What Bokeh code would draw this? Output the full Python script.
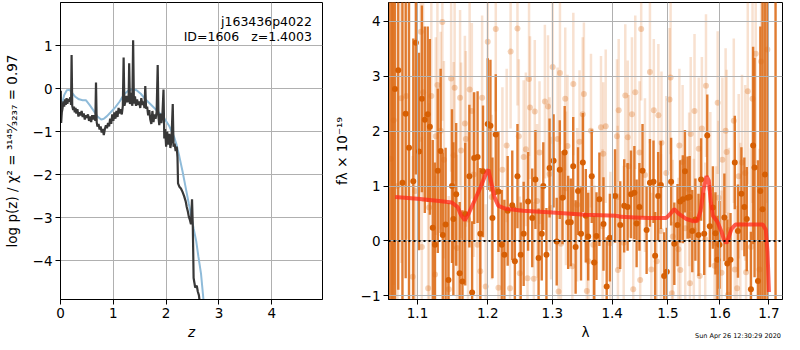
from bokeh.plotting import figure
from bokeh.layouts import row, column
from bokeh.models import (Range1d, FixedTicker, CustomJSTickFormatter, Span, Label,
                          ColumnDataSource, Div)
from bokeh.embed import file_html
from bokeh.resources import INLINE

FONT = "DejaVu Sans"

# ---------------- left panel: log p(z) ----------------
pz_z = [0.000, 0.006, 0.012, 0.025, 0.040, 0.055, 0.070, 0.085, 0.100, 0.115,
        0.130, 0.150, 0.170, 0.185, 0.200, 0.210, 0.222, 0.240, 0.255, 0.270,
        0.285, 0.300, 0.320, 0.340, 0.360, 0.380, 0.400, 0.420, 0.440, 0.460,
        0.480, 0.500, 0.520, 0.540, 0.560, 0.580, 0.600, 0.620, 0.640, 0.660,
        0.672, 0.685, 0.700, 0.720, 0.740, 0.760, 0.780, 0.800, 0.820, 0.840,
        0.860, 0.880, 0.900, 0.920, 0.940, 0.960, 0.980, 1.000, 1.020, 1.040,
        1.060, 1.080, 1.100, 1.120, 1.140, 1.160, 1.180, 1.195, 1.210, 1.230,
        1.250, 1.270, 1.290, 1.300, 1.315, 1.330, 1.345, 1.360, 1.375, 1.390,
        1.410, 1.430, 1.450, 1.470, 1.490, 1.510, 1.530, 1.550, 1.570, 1.590,
        1.605, 1.620, 1.640, 1.660, 1.680, 1.700, 1.720, 1.740, 1.760, 1.780,
        1.800, 1.820, 1.840, 1.855, 1.870, 1.890, 1.910, 1.930, 1.950, 1.965,
        1.980, 2.000, 2.020, 2.040, 2.060, 2.080, 2.100, 2.125, 2.140, 2.160,
        2.180, 2.200, 2.215, 2.225, 2.250, 2.280, 2.310, 2.340, 2.370, 2.390,
        2.410, 2.430, 2.450, 2.470, 2.490, 2.505, 2.520, 2.535, 2.550, 2.580,
        2.600, 2.620, 2.640]
pz_logp = [-0.75, -0.05, -0.80, -0.55, -0.45, -0.30, -0.42, -0.25, -0.38, -0.22,
           -0.35, -0.24, -0.30, -0.20, -0.38, 0.78, -0.40, -0.50, -0.42, -0.55,
           -0.45, -0.58, -0.48, -0.65, -0.55, -0.62, -0.52, -0.66, -0.58, -0.72,
           -0.62, -0.68, -0.60, -0.75, -0.65, -0.78, -0.62, -0.72, -0.62, -0.75,
           0.14, -0.78, -0.88, -0.82, -0.95, -0.88, -1.02, -0.94, -1.08, -0.94,
           -0.85, -0.92, -0.80, -0.88, -0.70, -0.82, -0.60, -0.75, -0.55, -0.70,
           -0.52, -0.66, -0.45, -0.58, -0.48, -0.60, -0.40, 0.72, -0.40, -0.30,
           -0.17, -0.32, -0.20, 0.59, -0.36, -0.10, -0.25, -0.40, 1.12, -0.35,
           -0.18, -0.40, -0.25, -0.38, -0.30, -0.45, -0.22, -0.38, -0.30, -0.45,
           0.06, -0.47, -0.42, -0.62, -0.50, -0.72, -0.82, -0.52, -0.78, -0.60,
           -0.70, -0.55, 0.55, -0.66, -0.85, -0.58, -0.80, -0.60, -0.02, -1.16,
           -0.94, -1.35, -1.00, -1.30, -1.05, -1.38, -1.22, -0.36, -1.35, -1.28,
           -1.45, -1.35, -1.60, -2.20, -2.28, -2.32, -2.40, -2.50, -2.62, -2.75,
           -2.85, -2.98, -3.05, -3.15, -2.57, -3.21, -4.40, -4.51, -4.62, -4.58,
           -4.72, -4.80, -5.00]

prior_z = [0.00, 0.03, 0.07, 0.12, 0.17, 0.22, 0.28, 0.35, 0.42, 0.48,
           0.55, 0.62, 0.70, 0.77, 0.82, 0.88, 0.95, 1.04, 1.12, 1.20,
           1.28, 1.36, 1.44, 1.52, 1.60, 1.70, 1.80, 1.90, 1.97, 2.05,
           2.10, 2.15, 2.20, 2.25, 2.31, 2.37, 2.43, 2.48, 2.52, 2.57,
           2.61, 2.66, 2.71, 2.75]
prior_logp = [-0.65, -0.35, -0.15, -0.04, -0.03, -0.10, -0.19, -0.25, -0.27, -0.27,
              -0.38, -0.50, -0.65, -0.72, -0.70, -0.64, -0.55, -0.43, -0.30, -0.14,
              -0.05, -0.01, -0.04, -0.12, -0.24, -0.36, -0.48, -0.60, -0.70, -0.85,
              -0.98, -1.12, -1.32, -1.58, -1.92, -2.30, -2.68, -2.98, -3.25, -3.55,
              -3.90, -4.30, -4.95, -5.40]

z_ticks = [0, 1, 2, 3, 4]
logp_ticks = [-4, -3, -2, -1, 0, 1]

# ---------------- right panel: spectrum ----------------
dark_wave = [1.062, 1.065, 1.067, 1.0697, 1.0741, 1.0797, 1.084, 1.0885, 1.0943, 1.0978,
             1.102, 1.106, 1.110, 1.114, 1.117, 1.121, 1.124, 1.128, 1.132, 1.135,
             1.139, 1.143, 1.148, 1.150, 1.154, 1.159, 1.163, 1.167, 1.173, 1.177,
             1.180, 1.185, 1.189, 1.193, 1.200, 1.204, 1.207, 1.212, 1.216, 1.221,
             1.225, 1.230, 1.237, 1.241, 1.245, 1.250, 1.2546, 1.2615, 1.268, 1.273,
             1.278, 1.283, 1.2855, 1.2905, 1.2955, 1.302, 1.307, 1.312, 1.3165, 1.320,
             1.3257, 1.330, 1.334, 1.338, 1.342, 1.347, 1.350, 1.355, 1.359, 1.365,
             1.369, 1.373, 1.378, 1.385, 1.3905, 1.396, 1.405, 1.414, 1.421, 1.427,
             1.433, 1.439, 1.443, 1.448, 1.4536, 1.461, 1.467, 1.4735, 1.4765, 1.482,
             1.487, 1.493, 1.498, 1.506, 1.512, 1.518, 1.523, 1.528, 1.532, 1.537,
             1.541, 1.546, 1.552, 1.558, 1.563, 1.569, 1.575, 1.580, 1.586, 1.591,
             1.595, 1.599, 1.6087, 1.6146, 1.621, 1.6296, 1.636, 1.643, 1.649, 1.654,
             1.6625, 1.667, 1.670, 1.677, 1.682, 1.6866, 1.6915, 1.697, 1.714]
dark_flux = [5.5, 5.5, 5.5, 2.77, 3.11, 1.06, 2.32, 1.70, 1.09, 3.61,
             1.63, 2.59, 2.21, 2.31, 2.08, 0.24, -0.07, 1.28, 1.64, 0.11,
             0.30, -0.71, 1.00, 0.40, 0.85, -0.59, -0.74, 0.49, 1.18, -0.94,
             1.51, 1.53, 0.13, 1.27, 2.13, 2.10, 0.42, 1.94, 0.90, -0.07,
             -0.25, 0.55, 0.65, -0.37, 1.18, -0.25, 0.13, 0.72, 0.42, 1.12,
             -0.31, 0.13, 1.00, -0.25, 1.33, 1.46, -0.01, 1.30, 0.79, 1.61,
             0.34, 0.34, 1.36, -0.11, 0.91, 0.13, 1.43, 0.46, 0.08, 1.18,
             -0.39, 0.09, 0.76, 0.31, -0.83, 0.06, 0.82, 0.29, 0.64, 0.62,
             0.85, 0.88, 0.32, 0.62, 1.28, 0.20, 1.06, 1.08, -0.27, 0.82,
             1.02, -0.64, -0.56, 1.08, -0.05, 0.29, 0.72, 0.76, 1.27, 0.79,
             0.80, 0.18, 0.39, 0.11, 1.12, 0.13, 1.92, 0.27, 0.61, 0.14,
             -0.34, -0.07, 0.43, -0.41, -0.34, 1.43, 0.18, 0.86, 0.62, 0.40,
             -0.88, 1.74, 1.34, -0.73, 0.91, 0.58, 1.21, 5.5, 5.5]
dark_err = [7.0, 7.0, 7.0, 4.0, 4.0, 3.5, 3.0, 2.8, 2.6, 2.4,
            1.8, 1.7, 1.7, 1.6, 1.6, 1.6, 1.5, 1.5, 1.5, 1.5,
            1.4, 1.4, 1.4, 1.4, 1.3, 1.3, 1.3, 1.3, 1.3, 1.3,
            1.2, 1.2, 1.2, 1.2, 1.2, 1.2, 1.1, 1.1, 1.1, 1.0,
            1.0, 1.0, 1.0, 1.0, 0.95, 0.95, 0.95, 0.9, 0.9, 0.9,
            0.9, 0.85, 0.8, 0.85, 0.9, 0.85, 0.8, 0.9, 0.85, 0.85,
            0.85, 0.8, 0.9, 0.85, 0.8, 0.85, 0.9, 0.85, 0.8, 0.85,
            0.85, 0.8, 0.85, 0.85, 0.9, 0.8, 0.85, 0.8, 0.85, 0.8,
            0.8, 0.85, 0.8, 0.8, 0.85, 0.8, 0.8, 0.75, 0.8, 0.8,
            0.8, 0.8, 0.8, 0.8, 0.75, 0.75, 0.75, 0.8, 0.75, 0.75,
            0.75, 0.75, 0.75, 0.75, 0.75, 0.75, 0.75, 0.75, 0.75, 0.75,
            0.8, 0.8, 0.8, 0.8, 0.85, 0.85, 0.85, 0.85, 0.9, 0.95,
            1.05, 1.8, 2.0, 2.2, 3.0, 4.0, 5.0, 7.0, 7.0]

light_wave = [1.064, 1.068, 1.073, 1.078, 1.0849, 1.0935, 1.0969, 1.1045, 1.1059, 1.1077,
              1.1146, 1.116, 1.119, 1.1242, 1.1252, 1.1275, 1.1321, 1.1344, 1.1366, 1.1435,
              1.1468, 1.1504, 1.1518, 1.1551, 1.1596, 1.161, 1.1665, 1.1679, 1.1711, 1.1734,
              1.1766, 1.1793, 1.1848, 1.189, 1.1917, 1.197, 1.200, 1.206, 1.212, 1.216,
              1.222, 1.2285, 1.2336, 1.2345, 1.245, 1.2471, 1.2486, 1.2546, 1.258, 1.2606,
              1.263, 1.2645, 1.2705, 1.272, 1.2756, 1.2795, 1.288, 1.293, 1.2955, 1.298,
              1.3005, 1.3085, 1.310, 1.3123, 1.3139, 1.3209, 1.322, 1.3246, 1.3326, 1.3342,
              1.3406, 1.3445, 1.3498, 1.3518, 1.3567, 1.3594, 1.3637, 1.3674, 1.3701, 1.3807,
              1.3835, 1.3846, 1.3888, 1.3968, 1.4083, 1.4095, 1.410, 1.4113, 1.4201, 1.4229,
              1.4272, 1.429, 1.4347, 1.437, 1.4406, 1.4483, 1.4494, 1.4512, 1.458, 1.467,
              1.4695, 1.4741, 1.4794, 1.4824, 1.4871, 1.4882, 1.497, 1.5031, 1.505, 1.5075,
              1.5092, 1.5197, 1.5215, 1.5233, 1.5276, 1.5326, 1.540, 1.5415, 1.543, 1.549,
              1.5503, 1.5584, 1.5603, 1.5645, 1.571, 1.5725, 1.581, 1.5891, 1.5923, 1.5954,
              1.597, 1.603, 1.6047, 1.6112, 1.6132, 1.616, 1.6177, 1.6276, 1.6296, 1.6343,
              1.6375, 1.6408, 1.6442, 1.6507, 1.6525, 1.656, 1.6625, 1.6658, 1.6724, 1.6803,
              1.6836, 1.6967]
light_flux = [1.5, 2.2, 1.0, 2.6, 2.64, -0.65, 0.91, 3.81, -0.11, 2.71,
              -0.86, 0.61, 2.64, -0.61, 1.91, 2.84, 2.01, 3.99, 1.48, -0.88,
              2.96, 1.56, 2.79, -0.13, 2.61, 1.65, 2.14, 1.86, 0.39, 2.76,
              2.37, 1.21, -0.07, -0.55, 2.61, -0.83, 3.63, 0.80, 3.86, -0.85,
              1.30, 1.74, -0.86, 3.45, 3.87, 1.91, -0.59, 1.53, 1.67, -0.68,
              2.95, 2.43, -0.69, 2.36, 0.73, 1.61, 2.54, 2.45, 1.22, 0.60,
              3.17, 1.86, -0.92, 3.06, -0.05, 2.59, 0.96, 1.73, -0.46, 2.86,
              0.66, 1.81, 2.31, 2.68, -0.91, -0.37, 2.01, -0.07, -0.39, 2.07,
              0.27, 1.59, 2.09, -0.04, 1.91, 0.80, -0.53, 2.38, -0.03, 2.65,
              1.89, 1.36, 2.31, -0.88, 2.71, 1.61, -0.71, 3.86, 1.20, 3.08,
              -0.52, 2.38, -0.37, 2.29, 0.18, 1.79, 1.24, 2.58, 2.98, -0.95,
              0.08, -0.15, 1.74, -0.53, 1.44, 0.23, 0.94, -0.77, 1.95, 0.20,
              2.37, 1.68, -0.64, 2.05, 0.03, 2.83, 0.95, -0.45, -0.04, 2.52,
              0.79, -0.58, 1.48, 2.01, 1.62, -0.98, 0.20, 2.19, -0.52, -0.86,
              1.18, 0.29, 1.43, 1.24, -0.57, 2.73, -0.11, 2.59, 3.41, -0.52,
              3.27, 3.49]
light_err = [3.0, 3.0, 3.0, 3.0, 2.6, 2.2, 2.2, 2.0, 2.0, 2.0,
             1.9, 1.9, 1.9, 1.8, 1.8, 1.8, 1.8, 1.8, 1.8, 1.7,
             1.7, 1.7, 1.7, 1.7, 1.6, 1.6, 1.6, 1.6, 1.6, 1.6,
             1.6, 1.5, 1.5, 1.5, 1.5, 1.5, 1.5, 1.5, 1.5, 1.5,
             1.5, 1.4, 1.4, 1.4, 1.4, 1.4, 1.4, 1.4, 1.4, 1.4,
             1.4, 1.3, 1.4, 1.3, 1.4, 1.3, 1.4, 1.3, 1.4, 1.3,
             1.4, 1.3, 1.4, 1.3, 1.4, 1.3, 1.4, 1.3, 1.4, 1.3,
             1.4, 1.3, 1.4, 1.3, 1.4, 1.3, 1.4, 1.3, 1.4, 1.3,
             1.4, 1.3, 1.4, 1.3, 1.4, 1.3, 1.4, 1.3, 1.4, 1.3,
             1.4, 1.3, 1.4, 1.3, 1.4, 1.3, 1.4, 1.3, 1.4, 1.3,
             1.4, 1.3, 1.4, 1.3, 1.4, 1.3, 1.4, 1.3, 1.4, 1.3,
             1.4, 1.3, 1.4, 1.3, 1.4, 1.3, 1.4, 1.3, 1.4, 1.3,
             1.4, 1.3, 1.4, 1.3, 1.4, 1.3, 1.4, 1.3, 1.4, 1.3,
             1.4, 1.5, 1.5, 1.5, 1.5, 1.5, 1.5, 1.5, 1.5, 1.5,
             1.5, 1.5, 1.6, 1.6, 1.6, 1.7, 1.8, 1.9, 2.0, 2.2,
             2.4, 2.8]

model_wave = [1.070, 1.100, 1.130, 1.148, 1.156, 1.161, 1.1665, 1.172, 1.180, 1.190,
              1.197, 1.201, 1.205, 1.210, 1.216, 1.226, 1.2535, 1.300, 1.354, 1.408,
              1.4145, 1.44, 1.465, 1.497, 1.505, 1.512, 1.520, 1.535, 1.549, 1.556,
              1.562, 1.568, 1.5735, 1.578, 1.582, 1.586, 1.595, 1.603, 1.608, 1.6126,
              1.617, 1.623, 1.631, 1.66, 1.687, 1.6935, 1.697, 1.700]
model_flux = [0.80, 0.77, 0.73, 0.70, 0.62, 0.47, 0.375, 0.50, 0.72, 1.00,
              1.22, 1.30, 1.08, 0.80, 0.64, 0.59, 0.55, 0.52, 0.48, 0.46,
              0.44, 0.43, 0.42, 0.42, 0.50, 0.58, 0.50, 0.40, 0.36, 0.37,
              0.55, 0.95, 1.18, 1.10, 0.70, 0.46, 0.35, 0.17, 0.02, -0.04,
              0.06, 0.22, 0.30, 0.30, 0.30, 0.20, -0.20, -0.93]

wave_ticks = [1.1, 1.2, 1.3, 1.4, 1.5, 1.6, 1.7]
flux_ticks = [-1, 0, 1, 2, 3, 4]

timestamp = "Sun Apr 26 12:30:29 2020"

ORANGE = "#dc6a14"
H = 342


def fmt(decimals):
    return CustomJSTickFormatter(code="""
        const s = tick.toFixed(%d);
        return s.replace('-', '\\u2212');
    """ % decimals)


def style(p):
    p.outline_line_color = "black"
    p.outline_line_width = 1
    p.outline_line_alpha = 1
    p.background_fill_color = "white"
    p.border_fill_color = "white"
    for ax in p.axis:
        ax.axis_line_color = "black"
        ax.axis_line_width = 1
        ax.major_tick_line_color = "black"
        ax.major_tick_out = 5
        ax.major_tick_in = 0
        ax.minor_tick_line_color = None
        ax.major_label_text_font = FONT
        ax.major_label_text_font_size = "13.5px"
        ax.major_label_text_color = "black"
        ax.major_label_standoff = 3
        ax.axis_label_text_font = FONT
        ax.axis_label_text_font_size = "13.5px"
        ax.axis_label_text_color = "black"
        ax.axis_label_text_font_style = "normal"
        ax.axis_label_standoff = 3
    p.grid.grid_line_color = "#b0b0b0"
    p.grid.grid_line_width = 1


# ---------- left figure ----------
p1 = figure(width=330, height=H, x_range=Range1d(0, 4.96), y_range=Range1d(-4.9, 2.0),
            output_backend="svg", toolbar_location=None,
            min_border_left=54, min_border_right=8, min_border_top=2, min_border_bottom=40)
style(p1)
p1.xaxis.ticker = FixedTicker(ticks=z_ticks)
p1.yaxis.ticker = FixedTicker(ticks=logp_ticks)
p1.xgrid.ticker = FixedTicker(ticks=z_ticks)
p1.ygrid.ticker = FixedTicker(ticks=logp_ticks)
p1.xaxis.formatter = fmt(0)
p1.yaxis.formatter = fmt(0)
p1.xaxis.axis_label = "z"
p1.xaxis.axis_label_text_font_style = "italic"
p1.yaxis.axis_label = "log p(z) / \u03c7\u00b2 = \u00b3\u00b9\u2074\u2075\u2044\u2083\u2082\u2083\u2087 = 0.97"
p1.yaxis.axis_label_standoff = 10

p1.line(prior_z, prior_logp, line_color="#8fbbd9", line_width=2)
p1.line(pz_z, pz_logp, line_color="#383838", line_width=2.2)

p1.add_layout(Label(x=4.76, y=1.57, text="j163436p4022", text_align="right",
                    text_baseline="middle", text_font=FONT, text_font_size="12.5px",
                    text_color="black"))
p1.add_layout(Label(x=4.76, y=1.20, text="ID=1606\u00a0\u00a0\u00a0z=1.4003",
                    text_align="right", text_baseline="middle", text_font=FONT,
                    text_font_size="12.5px", text_color="black"))

# ---------- right figure ----------
p2 = figure(width=454, height=H, x_axis_type="log",
            x_range=Range1d(1.0612, 1.7288), y_range=Range1d(-1.066, 4.345),
            output_backend="svg", toolbar_location=None,
            min_border_left=49, min_border_right=2, min_border_top=2, min_border_bottom=40)
style(p2)
p2.xaxis.ticker = FixedTicker(ticks=wave_ticks)
p2.xgrid.ticker = FixedTicker(ticks=wave_ticks)
p2.yaxis.ticker = FixedTicker(ticks=flux_ticks)
p2.ygrid.ticker = FixedTicker(ticks=flux_ticks)
p2.xaxis.formatter = fmt(1)
p2.yaxis.formatter = fmt(0)
p2.xaxis.axis_label = "\u03bb"
p2.yaxis.axis_label = "f\u03bb \u00d7 10\u207b\u00b9\u2079"
p2.yaxis.axis_label_standoff = 8

light_src = ColumnDataSource(dict(
    x=light_wave, y=light_flux,
    lo=[f - e for f, e in zip(light_flux, light_err)],
    hi=[f + e for f, e in zip(light_flux, light_err)]))
dark_src = ColumnDataSource(dict(
    x=dark_wave, y=dark_flux,
    lo=[f - e for f, e in zip(dark_flux, dark_err)],
    hi=[f + e for f, e in zip(dark_flux, dark_err)]))

p2.segment(x0="x", y0="lo", x1="x", y1="hi", source=light_src, line_color=ORANGE,
           line_alpha=0.2, line_width=2.5, level="image")
p2.scatter(x="x", y="y", source=light_src, size=6, fill_color=ORANGE, fill_alpha=0.3,
           line_color=None, level="image")
p2.segment(x0="x", y0="lo", x1="x", y1="hi", source=dark_src, line_color=ORANGE,
           line_alpha=0.88, line_width=2.4, level="image")
p2.scatter(x="x", y="y", source=dark_src, size=6, fill_color="#d65f04", fill_alpha=1.0,
           line_color=None, level="image")

p2.line(model_wave, model_flux, line_color="#ff2a1a", line_alpha=0.75, line_width=4)
p2.add_layout(Span(location=0, dimension="width", line_color="black", line_width=2,
                   line_dash="2 3"))

stamp = Div(text=timestamp, width=781, height=10, margin=(-11, 0, 0, 0),
            styles={"font-family": FONT, "font-size": "6.5px", "line-height": "10px",
                    "text-align": "right", "color": "black"})

layout = column(row(p1, p2), stamp)
open("out.html", "w").write(file_html(layout, INLINE))
